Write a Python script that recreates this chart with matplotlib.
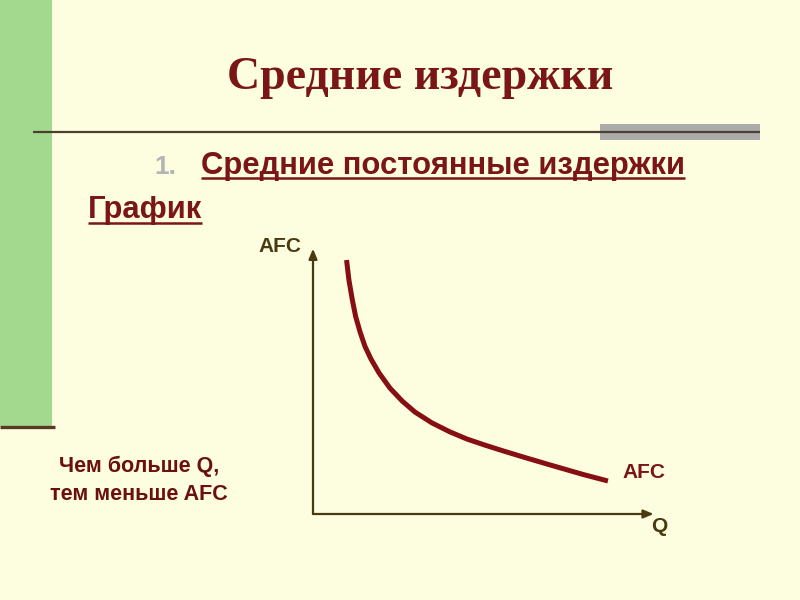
import matplotlib.pyplot as plt
import matplotlib.patches as mpatches

# curve values (Q, AFC in chart units 0..10)
q_vals = [0.99, 1.06, 1.16, 1.26, 1.39, 1.53, 1.71, 1.95, 2.27, 2.63, 3.01, 3.51,
          4.04, 4.54, 5.07, 5.66, 6.25, 6.99, 7.96, 8.70]
afc_vals = [9.62, 8.86, 8.11, 7.47, 6.89, 6.36, 5.87, 5.34, 4.77, 4.28, 3.86, 3.45,
            3.11, 2.84, 2.61, 2.37, 2.14, 1.86, 1.50, 1.25]

title = "Средние издержки"
subtitle = "Средние постоянные издержки"
graph_label = "График"
note_lines = ["Чем больше Q,", "тем меньше AFC"]

BG = "#FDFDDF"
DARK_RED = "#7A1616"
CURVE = "#850F12"
OLIVE = "#4A3A12"

fig = plt.figure(figsize=(8, 6), dpi=100)
fig.patch.set_facecolor(BG)

# overlay in pixel coordinates for slide decoration
deco = fig.add_axes([0, 0, 1, 1])
deco.set_xlim(0, 800)
deco.set_ylim(600, 0)
deco.axis("off")

deco.add_patch(mpatches.Rectangle((0, 0), 52, 426, color="#A3D98F", lw=0))
deco.plot([0, 55], [427, 427], color="#5A3A22", lw=2.4, solid_capstyle="butt")
deco.add_patch(mpatches.Rectangle((600, 124), 160, 16, color="#ABABAB", lw=0))
deco.plot([33, 760], [132, 132], color="#4A3F30", lw=1.6, solid_capstyle="butt")

deco.text(420, 78, title, ha="center", va="center", fontsize=33, fontweight="bold",
          family="Liberation Serif", color=DARK_RED)

deco.text(154, 167, "1.", ha="left", va="center", fontsize=19, fontweight="bold",
          family="Liberation Sans", color="#B4B4B4")
sub = deco.text(201, 166, subtitle, ha="left", va="center", fontsize=22.3, fontweight="bold",
                family="Liberation Sans", color=DARK_RED)
gr = deco.text(88, 210, graph_label, ha="left", va="center", fontsize=22.3, fontweight="bold",
               family="Liberation Sans", color=DARK_RED)

deco.text(139, 466, note_lines[0], ha="center", va="center", fontsize=15.5, fontweight="bold",
          family="Liberation Sans", color="#6A1010")
deco.text(139, 494, note_lines[1], ha="center", va="center", fontsize=15.5, fontweight="bold",
          family="Liberation Sans", color="#6A1010")

# underline the two headings
fig.canvas.draw()
renderer = fig.canvas.get_renderer()
inv = deco.transData.inverted()
for t, uy in [(sub, 178), (gr, 223)]:
    bb = t.get_window_extent(renderer)
    x0, _ = inv.transform((bb.x0, bb.y0))
    x1, _ = inv.transform((bb.x1, bb.y0))
    deco.plot([x0, x1], [uy, uy], color=DARK_RED, lw=1.8, solid_capstyle="butt")

# chart axes: pixel x 313..652, y 250..514
ax = fig.add_axes([313 / 800, 1 - 514 / 600, (652 - 313) / 800, (514 - 250) / 600])
ax.set_xlim(0, 10)
ax.set_ylim(0, 10)
ax.patch.set_alpha(0)
for s in ax.spines.values():
    s.set_visible(False)
ax.set_xticks([])
ax.set_yticks([])

arrow = dict(arrowstyle="-|>,head_length=0.6,head_width=0.25", color=OLIVE, lw=1.6,
             shrinkA=0, shrinkB=0)
ax.annotate("", xy=(0, 10.05), xytext=(0, 0), arrowprops=arrow, annotation_clip=False)
ax.annotate("", xy=(10.05, 0), xytext=(0, 0), arrowprops=arrow, annotation_clip=False)
ax.plot(q_vals, afc_vals, color=CURVE, lw=3.6, solid_capstyle="butt", solid_joinstyle="round",
        clip_on=False)

deco.text(280, 246, "AFC", ha="center", va="center", fontsize=15, fontweight="bold",
          family="Liberation Sans", color=OLIVE)
deco.text(644, 472, "AFC", ha="center", va="center", fontsize=15, fontweight="bold",
          family="Liberation Sans", color=DARK_RED)
deco.text(659, 527, "Q", ha="center", va="center", fontsize=15, fontweight="bold",
          family="Liberation Sans", color=OLIVE)

fig.savefig("out.png", dpi=100, facecolor=BG)
